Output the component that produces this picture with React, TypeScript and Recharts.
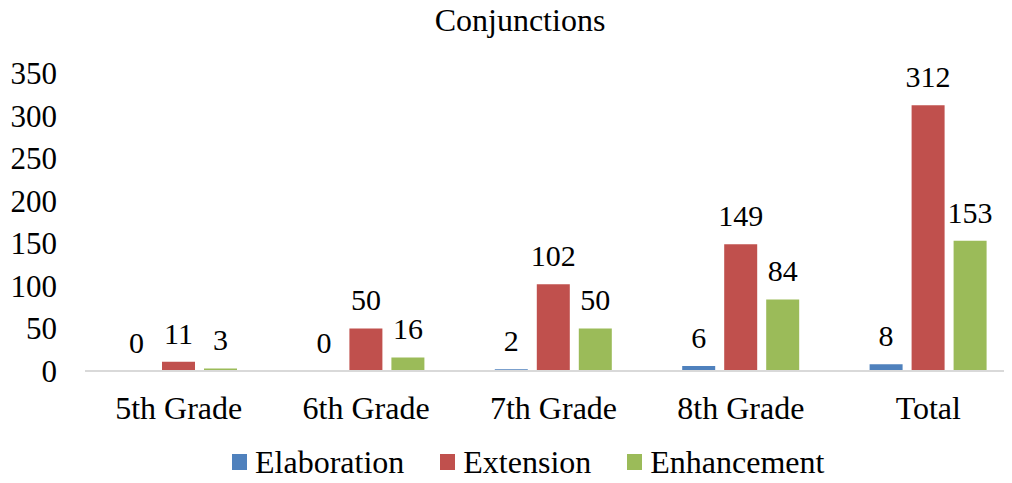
import { BarChart, Bar, XAxis, YAxis, LabelList } from 'recharts'

const grades = ['5th Grade', '6th Grade', '7th Grade', '8th Grade', 'Total']
const elaboration = [0, 0, 2, 6, 8]
const extension = [11, 50, 102, 149, 312]
const enhancement = [3, 16, 50, 84, 153]
const yTicks = [0, 50, 100, 150, 200, 250, 300, 350]

const series = [
  { key: 'elaboration', name: 'Elaboration', color: '#4F81BD' },
  { key: 'extension', name: 'Extension', color: '#C0504D' },
  { key: 'enhancement', name: 'Enhancement', color: '#9BBB59' },
]

const data = grades.map((g, i) => ({
  name: g,
  elaboration: elaboration[i],
  extension: extension[i],
  enhancement: enhancement[i],
}))

const FONT = '"Liberation Serif", "Times New Roman", serif'

// value label above each bar, serif like the rest of the chart
const renderLabel = (props: any) => {
  const { x, y, width, value } = props
  if (x == null || y == null) return null
  return (
    <text x={Number(x) + Number(width) / 2} y={Number(y) - 18} textAnchor='middle' fill='#000' fontSize={30} fontFamily={FONT}>
      {value}
    </text>
  )
}

// zero bars get a hairline height so their "0" label is still drawn
const zeroSize = (value: any) => (Number(value) === 0 ? 0.01 : 0)

export default function App() {
  return (
    <div style={{ position: 'relative', width: 1012, height: 483, overflow: 'hidden', margin: -8, background: '#fff', fontFamily: FONT }}>
      <div style={{ position: 'absolute', top: 2, left: 520, transform: 'translateX(-50%)', whiteSpace: 'nowrap', fontSize: 32, color: '#000', lineHeight: '36px' }}>
        Conjunctions
      </div>
      <BarChart
        width={1030}
        height={483}
        data={data}
        margin={{ top: 73, right: 8, bottom: 0, left: 0 }}
        barSize={33}
        barGap={9}
      >
        <XAxis
          dataKey='name'
          height={112}
          tickLine={false}
          tickSize={0}
          tickMargin={25}
          axisLine={{ stroke: '#D9D9D9', strokeWidth: 2 }}
          tick={{ fill: '#000', fontSize: 32, fontFamily: FONT }}
          interval={0}
        />
        <YAxis
          width={85}
          domain={[0, 350]}
          ticks={yTicks}
          tickLine={false}
          axisLine={false}
          tickSize={0}
          tickMargin={28}
          tick={{ fill: '#000', fontSize: 31, fontFamily: FONT }}
        />
        {series.map((s) => (
          <Bar key={s.key} dataKey={s.key} name={s.name} fill={s.color} minPointSize={zeroSize} isAnimationActive={false}>
            <LabelList dataKey={s.key} content={renderLabel} />
          </Bar>
        ))}
      </BarChart>
      <div style={{ position: 'absolute', top: 444, left: 232, display: 'flex', alignItems: 'center', fontSize: 32, color: '#000', lineHeight: '36px' }}>
        {series.map((s, i) => (
          <div key={s.key} style={{ display: 'flex', alignItems: 'center', marginRight: i < series.length - 1 ? 36 : 0 }}>
            <span style={{ display: 'inline-block', width: 15, height: 16, background: s.color, marginRight: 8 }} />
            <span>{s.name}</span>
          </div>
        ))}
      </div>
    </div>
  )
}
